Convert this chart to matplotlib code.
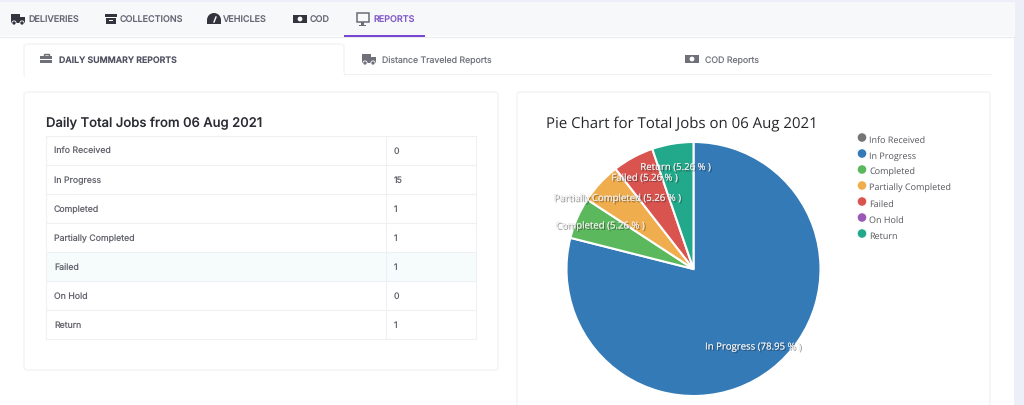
import matplotlib
matplotlib.use("Agg")
import matplotlib.pyplot as plt
import matplotlib.patheffects as pe
from matplotlib.patches import Rectangle, FancyBboxPatch, Circle, Wedge

plt.rcParams["text.hinting"] = "no_hinting"
plt.rcParams["text.hinting_factor"] = 1

categories = ["Info Received", "In Progress", "Completed", "Partially Completed", "Failed", "On Hold", "Return"]
job_counts = [0, 15, 1, 1, 1, 0, 1]
slice_colors = ["#757575", "#337ab7", "#5cb85c", "#f0ad4e", "#d9534f", "#9b59b6", "#22a88a"]
report_date = "06 Aug 2021"
nav_tabs = ["DELIVERIES", "COLLECTIONS", "VEHICLES", "COD", "REPORTS"]
sub_tabs = ["DAILY SUMMARY REPORTS", "Distance Traveled Reports", "COD Reports"]

UI = "Inter"
CH = "Open Sans"
W, H = 1024, 406
fig = plt.figure(figsize=(W / 100, H / 100), dpi=100, facecolor="white")
ax = fig.add_axes([0, 0, 1, 1])
ax.set_xlim(0, W); ax.set_ylim(0, H); ax.axis("off")
Y = lambda p: H - p
LINE = "#eef0f4"


def rect(x0, y0, x1, y1, fc, ec="none", lw=0, z=1):
    ax.add_patch(Rectangle((x0, Y(y1)), x1 - x0, y1 - y0, fc=fc, ec=ec, lw=lw, zorder=z))


def card(x0, y0, x1, y1, z=2):
    ax.add_patch(FancyBboxPatch((x0 + 3, Y(y1) + 3), x1 - x0 - 6, y1 - y0 - 6,
                                boxstyle="round,pad=3,rounding_size=3", fc="white", ec=LINE, lw=.8, zorder=z))


def px(s):
    return s * 0.72


def hline(x0, x1, y, c, lw=.75, z=3):
    ax.plot([x0, x1], [Y(y), Y(y)], color=c, lw=lw, zorder=z, solid_capstyle="butt")


def truck(x, y, c):
    rect(x, y - 5, x + 9, y + 4, c, z=5)
    rect(x + 9, y - 2, x + 14, y + 4, c, z=5)
    for dx in (3, 11):
        ax.add_patch(Circle((x + dx, Y(y + 4)), 2.1, fc=c, ec="white", lw=.6, zorder=6))


def box(x, y, c):
    rect(x, y - 5, x + 12, y - 2, c, z=5)
    rect(x + 1, y - 1, x + 11, y + 5, c, z=5)
    rect(x + 4, y + 0.5, x + 8, y + 1.5, "white", z=6)


def gauge(x, y, c):
    ax.add_patch(Wedge((x + 7, Y(y + 1)), 7, 0, 180, fc=c, zorder=5))
    rect(x, y + 1, x + 14, y + 5, c, z=5)
    ax.plot([x + 7, x + 9], [Y(y + 3), Y(y - 2)], color="white", lw=1, zorder=6)


def cash(x, y, c, w=14):
    rect(x, y - 4, x + w, y + 4, c, z=5)
    ax.add_patch(Circle((x + w / 2, Y(y)), 2.4, fc="white", zorder=6))


def monitor(x, y, c):
    ax.add_patch(Rectangle((x + .7, Y(y + 3)), 12, 9, fc="none", ec=c, lw=1.1, zorder=5))
    rect(x + 5, y + 3, x + 8, y + 6, c, z=5)
    rect(x + 3, y + 6, x + 10, y + 7, c, z=5)


def case(x, y, c):
    rect(x, y - 3, x + 12, y + 4, c, z=5)
    ax.add_patch(Rectangle((x + 3.5, Y(y - 3)), 5, 2, fc="none", ec=c, lw=1, zorder=5))
    rect(x, y, x + 12, y + .8, "white", z=6)


# page frame
rect(0, 0, W, H, "#eceff8", z=0)
rect(0, 3, 1015, 37, "#f7f8fa", z=1)
rect(0, 37, 1014, H, "white", z=1)
hline(0, 1014, 37.5, "#e8eaef", z=2)

# navigation tabs
nav_x = [28, 120, 223, 310, 373]
nav_icons = [(truck, 11), (box, 105), (gauge, 207), (cash, 293), (monitor, 356)]
for label, x, (icon, ix) in zip(nav_tabs, nav_x, nav_icons):
    active = label == "REPORTS"
    c = "#7e57c9" if active else "#666875"
    ax.text(x, Y(20.8), label, font=UI, fontsize=px(9), color=c, va="center", ha="left",
            fontweight="medium", zorder=6)
    icon(ix, 20, "#6b6d78" if active else "#33343d")
hline(344, 425, 36.5, "#7443d0", lw=1.4, z=6)

# sub tabs
hline(24, 991, 74.5, LINE, z=2)
ax.add_patch(FancyBboxPatch((27, Y(75)), 314, 27, boxstyle="round,pad=3,rounding_size=3",
                            fc="white", ec=LINE, lw=.8, zorder=3))
rect(25, 74, 343.5, 80, "white", z=3.5)
ax.text(59, Y(60.8), sub_tabs[0], font=UI, fontsize=px(8.75), color="#4f5060", va="center", fontweight="semibold", zorder=6)
ax.text(382, Y(60.8), sub_tabs[1], font=UI, fontsize=px(8.75), color="#72747f", va="center", zorder=6)
ax.text(705, Y(60.8), sub_tabs[2], font=UI, fontsize=px(8.75), color="#72747f", va="center", zorder=6)
case(40, 60, "#6f7079")
truck(362, 60, "#6f7079")
cash(685, 60, "#6f7079", w=14)

# cards
card(24, 93, 498, 371)
card(517, 93, 990, 430)

# table
ax.text(46, Y(123), f"Daily Total Jobs from {report_date}", font=UI, fontsize=px(13.15),
        color="#2b2c33", va="center", fontweight="medium", zorder=6)
T0, RH, TL, TR, TD = 137, 29, 46, 476, 386
for i, (name, n) in enumerate(zip(categories, job_counts)):
    top = T0 + i * RH
    if name == "Failed":
        rect(TL, top, TR, top + RH, "#f6fcfc", z=3)
    hline(TL, TR, top, LINE, z=4)
    ax.text(TL + 8, Y(top + RH / 2 + .3), name, font=UI, fontsize=px(8.75), color="#62636c", va="center", zorder=6)
    ax.text(TD + 8, Y(top + RH / 2 + .3), str(n), font=UI, fontsize=px(8.75), color="#62636c", va="center", zorder=6)
tb = T0 + len(categories) * RH
hline(TL, TR, tb, LINE, z=4)
for x in (TL, TD, TR):
    ax.plot([x, x], [Y(T0), Y(tb)], color=LINE, lw=.75, zorder=4)

# pie chart
ax.text(546, Y(124), f"Pie Chart for Total Jobs on {report_date}", font=CH, fontsize=px(15.3),
        color="#26272c", va="center", zorder=6)
total = sum(job_counts)
shown = [(n, v, c) for n, v, c in zip(categories, job_counts, slice_colors) if v > 0]
labels = [f"{n} ({v / total * 100:.2f} % )" for n, v, c in shown]
wedges, texts = ax.pie([s[1] for s in shown], labels=labels, colors=[s[2] for s in shown],
                       startangle=90, counterclock=False, center=(693.5, Y(270)), radius=127,
                       labeldistance=100 / 127, frame=True,
                       wedgeprops=dict(edgecolor="white", linewidth=1.5, zorder=5),
                       textprops=dict(font=CH, fontsize=px(9.6), color="#ececec", zorder=7))
for t in texts:
    x, y = t.get_position()
    t.set_position((x, y + (3 if y > Y(270) else 1)))
    t.set_ha("center"); t.set_va("center")
    t.set_path_effects([pe.withSimplePatchShadow(offset=(1, -1), shadow_rgbFace="#222222", alpha=.5), pe.Normal()])
ax.set_xlim(0, W); ax.set_ylim(0, H); ax.set_aspect("auto"); ax.axis("off")

# legend
LY0, LDY = 139, 16
for i, (name, col) in enumerate(zip(categories, slice_colors)):
    y = LY0 + i * LDY
    ax.add_patch(Circle((862, Y(y - .5)), 4.3, fc=col, ec="none", zorder=6))
    ax.text(869, Y(y + 1.5), name, font=CH, fontsize=px(9.5), color="#55565c", va="center", zorder=6)

fig.savefig("out.png", dpi=100, facecolor="white")
